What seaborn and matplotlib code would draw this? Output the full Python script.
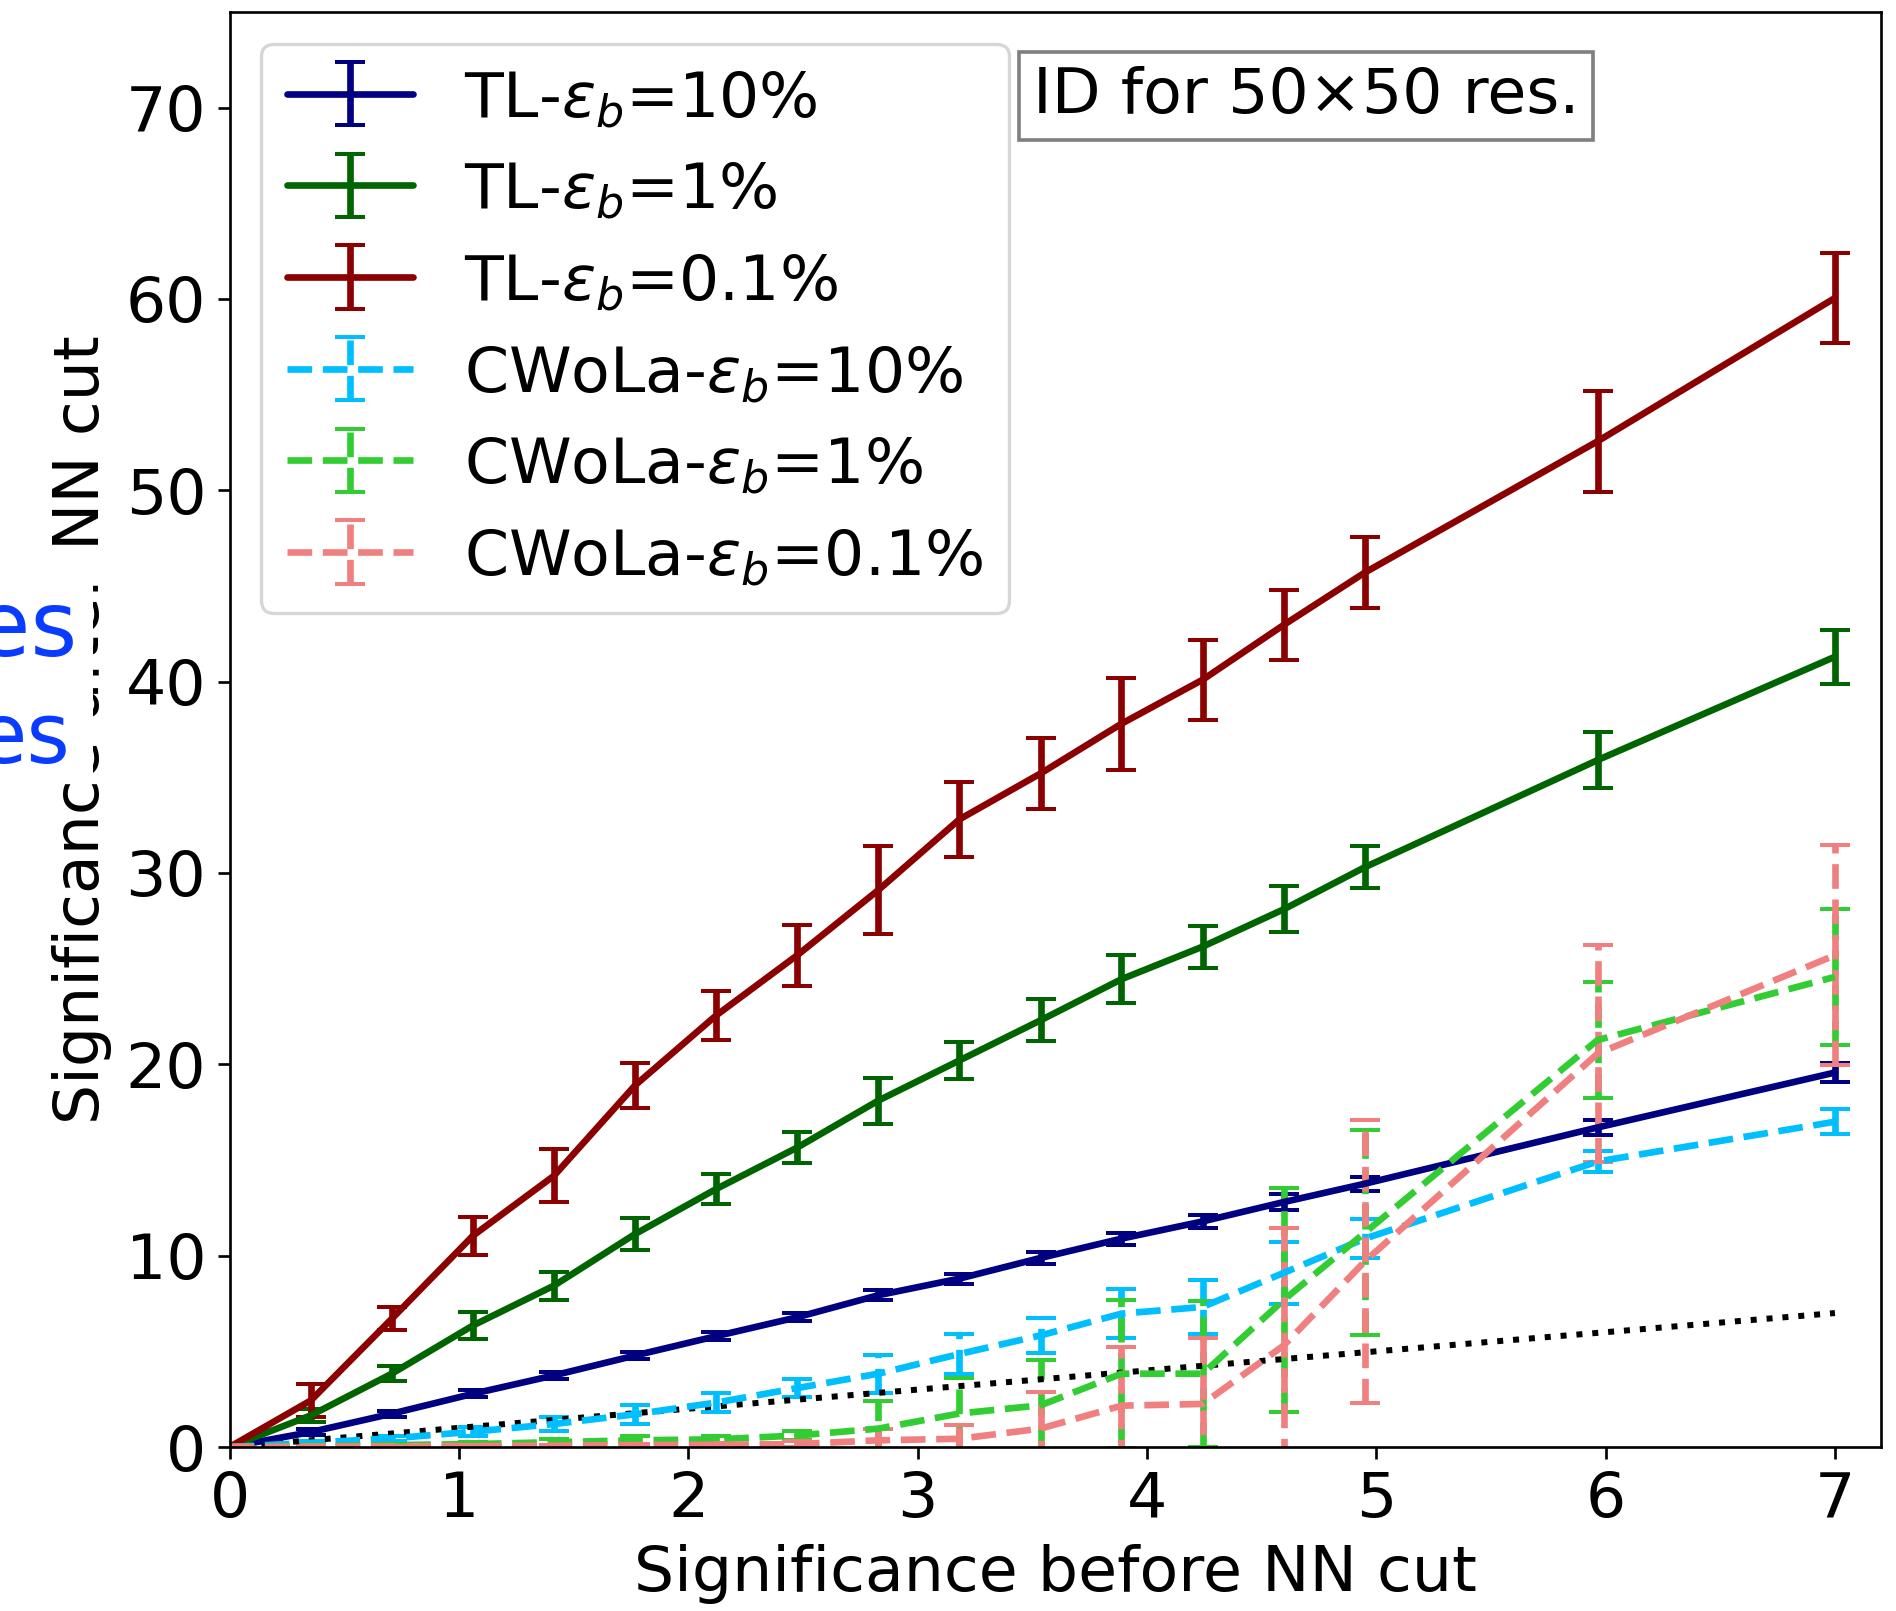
import numpy as np
import pandas as pd
import matplotlib
matplotlib.use("Agg")
import matplotlib.pyplot as plt
import seaborn as sns
from matplotlib.patches import Rectangle

# ---------------- data ----------------
x_sig = [0, 0.354, 0.707, 1.061, 1.414, 1.768, 2.121, 2.475, 2.828, 3.182,
         3.536, 3.889, 4.243, 4.596, 4.950, 5.965, 7.0]

tl_10 = [0, 0.78, 1.74, 2.78, 3.74, 4.78, 5.79, 6.78, 7.93, 8.8, 9.88, 10.89,
         11.79, 12.8, 13.76, 16.7, 19.57]
tl_10_err = [0, 0.15, 0.15, 0.18, 0.18, 0.2, 0.2, 0.22, 0.25, 0.26, 0.3, 0.32,
             0.32, 0.43, 0.37, 0.41, 0.52]

tl_1 = [0, 1.65, 3.83, 6.35, 8.43, 11.13, 13.48, 15.65, 18.1, 20.2, 22.3, 24.45,
        26.15, 28.1, 30.3, 35.9, 41.3]
tl_1_err = [0, 0.35, 0.4, 0.68, 0.74, 0.83, 0.78, 0.8, 1.2, 0.95, 1.1, 1.25,
            1.1, 1.2, 1.1, 1.45, 1.4]

tl_01 = [0, 2.43, 6.7, 11.04, 14.17, 18.9, 22.55, 25.7, 29.1, 32.8, 35.2, 37.8,
         40.1, 42.96, 45.7, 52.56, 60.05]
tl_01_err = [0, 0.87, 0.6, 1.0, 1.39, 1.17, 1.26, 1.6, 2.3, 1.95, 1.86, 2.4,
             2.1, 1.85, 1.85, 2.65, 2.35]

cw_10 = [0, 0.22, 0.45, 0.8, 1.2, 1.71, 2.32, 3.08, 3.83, 4.86, 5.83, 6.97,
         7.32, 9.1, 10.89, 14.92, 17.0]
cw_10_err = [0, 0.1, 0.15, 0.25, 0.35, 0.5, 0.48, 0.45, 0.99, 1.03, 0.92, 1.27,
             1.4, 1.63, 1.0, 0.55, 0.65]

cw_1 = [0, 0.05, 0.1, 0.15, 0.25, 0.35, 0.4, 0.6, 0.96, 1.75, 2.18, 3.83,
        3.83, 7.68, 11.2, 21.27, 24.57]
cw_1_err = [0, 0.05, 0.08, 0.1, 0.15, 0.2, 0.2, 0.25, 1.42, 1.88, 2.35, 3.87,
            3.82, 5.85, 5.35, 3.05, 3.57]

cw_01 = [0, 0.02, 0.03, 0.05, 0.07, 0.1, 0.12, 0.15, 0.35, 0.43, 0.96, 2.16,
         2.25, 5.3, 9.7, 20.56, 25.7]
cw_01_err = [0, 0.03, 0.03, 0.05, 0.05, 0.07, 0.1, 0.15, 0.6, 0.7, 1.9, 3.05,
             3.47, 6.15, 7.4, 5.66, 5.75]

diag_x = [0, 7]
diag_y = [0, 7]

labels = [r"TL-$\varepsilon_b$=10%", r"TL-$\varepsilon_b$=1%", r"TL-$\varepsilon_b$=0.1%",
          r"CWoLa-$\varepsilon_b$=10%", r"CWoLa-$\varepsilon_b$=1%", r"CWoLa-$\varepsilon_b$=0.1%"]
colors = ["navy", "darkgreen", "darkred", "deepskyblue", "limegreen", "lightcoral"]
styles = ["-", "-", "-", "--", "--", "--"]

# ---------------- style ----------------
sns.set_style("ticks")
plt.rcParams.update({
    "font.family": ["DejaVu Sans"],
    "axes.edgecolor": "black",
    "axes.linewidth": 0.8,
    "text.color": "black",
    "axes.labelcolor": "black",
    "xtick.color": "black",
    "ytick.color": "black",
    "xtick.major.size": 3.5,
    "ytick.major.size": 3.5,
    "xtick.major.width": 0.8,
    "ytick.major.width": 0.8,
    "mathtext.fontset": "dejavusans",
})

FS = 19
fig = plt.figure(figsize=(1896 / 240, 1611 / 240), dpi=240)
ax = fig.add_axes([0.1211, 0.1018, 0.992 - 0.1211, 0.9926 - 0.1018])

series = [(tl_10, tl_10_err), (tl_1, tl_1_err), (tl_01, tl_01_err),
          (cw_10, cw_10_err), (cw_1, cw_1_err), (cw_01, cw_01_err)]

for (yv, ye), lab, col, ls in zip(series, labels, colors, styles):
    eb = ax.errorbar(x_sig, yv, yerr=ye, color=col, linestyle=ls, lw=2,
                     elinewidth=2, capsize=4.5, capthick=1.2, label=lab)
    if ls == "--":
        eb[2][0].set_linestyle("--")

df_diag = pd.DataFrame({"x": diag_x, "y": diag_y})
sns.lineplot(data=df_diag, x="x", y="y", ax=ax, color="black", linestyle=":",
             lw=1.8, legend=False)

ax.set_xlim(0, 7.2)
ax.set_ylim(0, 75)
ax.set_xticks(range(0, 8))
ax.set_yticks(range(0, 71, 10))
ax.tick_params(labelsize=FS)
ax.set_xlabel("Significance before NN cut", fontsize=FS, labelpad=4)
ax.set_ylabel("Significance after NN cut", fontsize=FS, labelpad=4)

ax.legend(loc="upper left", fontsize=FS, framealpha=0.8, edgecolor="0.8")

ax.text(0.4865, 0.9624, "ID for 50\u00d750 res.", transform=ax.transAxes,
        fontsize=FS, ha="left", va="top",
        bbox=dict(boxstyle="square,pad=0.22", facecolor="white",
                  edgecolor="gray", lw=1.1))

# overlay artefact on the left side (white patch + cropped blue text)
W, H = 1896, 1611
fig.add_artist(Rectangle((0, 1 - 783 / H), 93 / W, (783 - 550) / H,
                         transform=fig.transFigure, facecolor="white",
                         edgecolor="none", zorder=10))
fig.text(77 / W, 1 - 656 / H, "es", color="#0a3cff", fontsize=27,
         ha="right", va="baseline", zorder=11)
fig.text(70 / W, 1 - 763 / H, "es", color="#0a3cff", fontsize=25,
         ha="right", va="baseline", zorder=11)

fig.savefig("out.png", dpi=240)
